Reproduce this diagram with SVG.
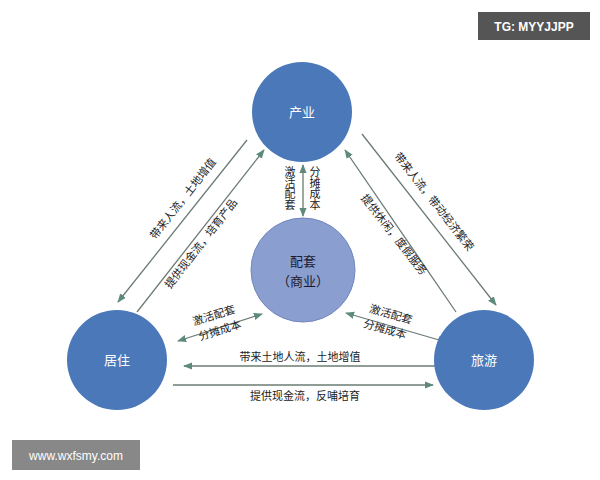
<svg xmlns="http://www.w3.org/2000/svg" width="600" height="480" viewBox="0 0 600 480">
<style>
.n{fill:#4a78b8}
.c{fill:#8a9fd0;stroke:#6f86bf;stroke-width:1}
.t{font-family:"Noto Sans CJK SC",sans-serif;font-size:13px;fill:#fff;text-anchor:middle}
.l{font-family:"Noto Sans CJK SC",sans-serif;font-size:11px;fill:#222;text-anchor:middle}
.ln{stroke:#6b7b73;stroke-width:1.3;fill:none}
</style>
<defs>
<marker id="a" viewBox="0 0 10 10" refX="9" refY="5" markerWidth="7" markerHeight="7" orient="auto-start-reverse"><path d="M0,1L10,5L0,9z" fill="#5e8a7c"/></marker>
</defs>
<rect width="600" height="480" fill="#fff"/>
<g id="connectors">
<line class="ln" x1="247" y1="140" x2="118" y2="302" marker-end="url(#a)"/>
<line class="ln" x1="137" y1="312" x2="264" y2="150" marker-end="url(#a)"/>
<line class="ln" x1="362" y1="134" x2="496" y2="305" marker-end="url(#a)"/>
<line class="ln" x1="456" y1="312" x2="345" y2="150" marker-end="url(#a)"/>
<line class="ln" x1="303" y1="165" x2="303" y2="216" marker-start="url(#a)" marker-end="url(#a)"/>
<line class="ln" x1="178" y1="341" x2="262" y2="314" marker-start="url(#a)" marker-end="url(#a)"/>
<line class="ln" x1="346" y1="313" x2="446" y2="342" marker-start="url(#a)" marker-end="url(#a)"/>
<line class="ln" x1="435" y1="366" x2="184" y2="366" marker-end="url(#a)"/>
<line class="ln" x1="173" y1="385" x2="433" y2="385" marker-end="url(#a)"/>
<text class="l" transform="translate(186,201) rotate(-52)">带来人流，土地增值</text>
<text class="l" transform="translate(204,246) rotate(-52)">提供现金流，培育产品</text>
<text class="l" transform="translate(431,204) rotate(52)">带来人流，带动经济繁荣</text>
<text class="l" transform="translate(391,237) rotate(52)">提供休闲，度假服务</text>
<text class="l" x="290" y="166" writing-mode="tb" style="text-anchor:start">激活配套</text>
<text class="l" x="315" y="166" writing-mode="tb" style="text-anchor:start">分摊成本</text>
<text class="l" transform="translate(215,319) rotate(-17)">激活配套</text>
<text class="l" transform="translate(221,334) rotate(-17)">分摊成本</text>
<text class="l" transform="translate(390,318) rotate(16)">激活配套</text>
<text class="l" transform="translate(384,333) rotate(16)">分摊成本</text>
<text class="l" x="300" y="361">带来土地人流，土地增值</text>
<text class="l" x="305" y="400">提供现金流，反哺培育</text>
</g>
<g id="n1"><circle class="n" cx="302" cy="112" r="50"/><text class="t" x="302" y="117">产业</text></g>
<g id="n2"><circle class="n" cx="117" cy="360" r="50"/><text class="t" x="117" y="365">居住</text></g>
<g id="n3"><circle class="n" cx="484" cy="360" r="50"/><text class="t" x="484" y="365">旅游</text></g>
<g id="n4"><circle class="c" cx="303" cy="270" r="52"/><text class="t" x="303" y="266" style="fill:#1a1a2e">配套</text><text class="t" x="303" y="286" style="fill:#1a1a2e">（商业）</text></g>
<g id="wm1"><rect x="478" y="12" width="112" height="28" fill="#555"/><text x="534" y="31" style="font-family:'Liberation Sans',sans-serif;font-size:12px;fill:#fff;text-anchor:middle;font-weight:bold">TG: MYYJJPP</text></g>
<g id="wm2"><rect x="12" y="440" width="128" height="30" fill="#888"/><text x="76" y="460" style="font-family:'Liberation Sans',sans-serif;font-size:12px;fill:#fff;text-anchor:middle">www.wxfsmy.com</text></g>
</svg>
